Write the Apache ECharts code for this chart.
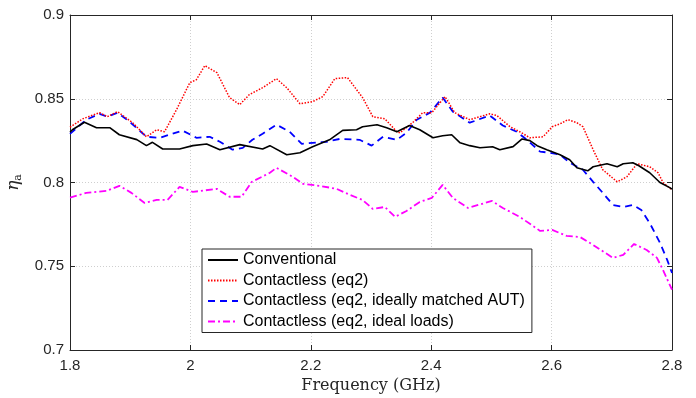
<!DOCTYPE html>
<html><head><meta charset="utf-8">
<script src="https://cdn.jsdelivr.net/npm/echarts@6/dist/echarts.min.js"></script>
<style>html,body{margin:0;padding:0;background:#fff}#c{width:696px;height:398px}</style>
</head><body><div id="c"></div>
<script>
// Tick labels / axis ranges
var xTicks = [1.8, 2, 2.2, 2.4, 2.6, 2.8];
var yTicks = [0.7, 0.75, 0.8, 0.85, 0.9];
var seriesNames = ['Conventional', 'Contactless (eq2)', 'Contactless (eq2, ideally matched AUT)', 'Contactless (eq2, ideal loads)'];

// Conventional
var convX = [1.8,1.804,1.824,1.844,1.866,1.882,1.911,1.927,1.937,1.954,1.982,2.004,2.027,2.049,2.082,2.120,2.132,2.160,2.182,2.203,2.231,2.253,2.276,2.286,2.310,2.326,2.343,2.364,2.381,2.403,2.419,2.434,2.448,2.464,2.481,2.502,2.514,2.536,2.551,2.564,2.576,2.592,2.614,2.630,2.642,2.660,2.669,2.692,2.709,2.719,2.735,2.745,2.763,2.780,2.797,2.8];
var convY = [0.830,0.8315,0.836,0.8327,0.8327,0.8285,0.8256,0.822,0.824,0.820,0.820,0.822,0.823,0.8195,0.8226,0.820,0.822,0.8166,0.8178,0.8214,0.8255,0.8311,0.8315,0.8333,0.8345,0.8327,0.8303,0.834,0.8315,0.8267,0.8279,0.8285,0.8237,0.822,0.8207,0.8213,0.8196,0.8214,0.826,0.825,0.822,0.8196,0.8166,0.8136,0.8088,0.807,0.8094,0.8112,0.8094,0.8112,0.8118,0.810,0.8058,0.800,0.7968,0.796];

// Contactless (eq2)
var eq2X = [1.8,1.821,1.849,1.862,1.879,1.904,1.927,1.944,1.957,1.977,1.999,2.010,2.024,2.044,2.065,2.082,2.098,2.120,2.143,2.160,2.182,2.203,2.220,2.240,2.261,2.286,2.303,2.323,2.343,2.348,2.369,2.386,2.401,2.423,2.439,2.464,2.497,2.509,2.531,2.547,2.564,2.586,2.601,2.614,2.627,2.642,2.652,2.669,2.685,2.709,2.725,2.742,2.763,2.777,2.785,2.8];
var eq2Y = [0.833,0.838,0.8417,0.8393,0.8423,0.8357,0.8273,0.8315,0.8303,0.8435,0.8596,0.8614,0.8698,0.8656,0.8507,0.8465,0.8525,0.8566,0.862,0.8566,0.847,0.8483,0.8513,0.862,0.8626,0.8507,0.8393,0.838,0.8303,0.8297,0.8357,0.8417,0.8417,0.8513,0.8417,0.8375,0.841,0.840,0.8333,0.8303,0.8267,0.8273,0.8333,0.835,0.8375,0.8357,0.8333,0.8196,0.8076,0.8004,0.8034,0.8112,0.8094,0.8058,0.800,0.7956];

// Contactless (eq2, ideally matched AUT)
var autX = [1.8,1.827,1.849,1.862,1.879,1.899,1.927,1.949,1.965,1.987,2.010,2.032,2.049,2.070,2.087,2.103,2.120,2.143,2.165,2.185,2.203,2.226,2.248,2.281,2.301,2.320,2.343,2.359,2.376,2.398,2.419,2.436,2.464,2.497,2.519,2.542,2.559,2.581,2.597,2.614,2.630,2.652,2.669,2.685,2.702,2.719,2.735,2.749,2.763,2.780,2.792,2.8];
var autY = [0.829,0.8375,0.841,0.8393,0.8417,0.8363,0.8273,0.8267,0.8285,0.831,0.8267,0.8273,0.8243,0.8196,0.8207,0.8255,0.8291,0.8345,0.8303,0.8231,0.8237,0.8243,0.826,0.8255,0.822,0.8273,0.8255,0.8297,0.8375,0.8417,0.8507,0.8423,0.8357,0.840,0.834,0.8303,0.8255,0.8184,0.8178,0.8166,0.8118,0.8076,0.8004,0.7938,0.7866,0.7854,0.7866,0.7836,0.7758,0.764,0.7538,0.746];

// Contactless (eq2, ideal loads)
var loadX = [1.8,1.827,1.861,1.882,1.902,1.924,1.944,1.962,1.982,2.004,2.044,2.065,2.085,2.102,2.132,2.143,2.170,2.187,2.215,2.243,2.265,2.286,2.303,2.323,2.340,2.359,2.381,2.401,2.419,2.436,2.461,2.501,2.519,2.547,2.581,2.601,2.625,2.647,2.669,2.702,2.719,2.737,2.758,2.775,2.785,2.8];
var loadY = [0.791,0.7938,0.795,0.798,0.7938,0.7878,0.7896,0.7896,0.7974,0.7944,0.7962,0.7915,0.7915,0.8004,0.8058,0.8088,0.8034,0.7992,0.798,0.7962,0.7926,0.7896,0.7842,0.7854,0.7795,0.783,0.7884,0.7908,0.7986,0.7908,0.7848,0.789,0.7848,0.7795,0.7711,0.7717,0.7681,0.7675,0.7627,0.755,0.7568,0.7633,0.7597,0.755,0.7478,0.736];

function pairs(xs, ys){ return xs.map(function(x,i){ return [x, ys[i]]; }); }

var axisCol = '#262626';
var labelFont = {fontFamily:'Liberation Sans', fontSize:15, color:'#262626'};
function xAx(pos, show){
  return {type:'value', position:pos, min:xTicks[0], max:xTicks[xTicks.length-1], interval:0.2,
    axisLine:{show:true, onZero:false, lineStyle:{color:axisCol, width:1}},
    axisTick:{show:true, inside:true, length:5, lineStyle:{color:axisCol}},
    axisLabel:Object.assign({show:show, margin:8}, labelFont),
    splitLine:{show:show, lineStyle:{color:'#cfcfcf', type:[1,2], width:1}},
    name: show ? 'Frequency (GHz)' : '', nameLocation:'middle', nameGap:28,
    nameTextStyle:{fontFamily:'DejaVu Serif', fontSize:16, color:'#262626'}};
}
function yAx(pos, show){
  return {type:'value', position:pos, min:yTicks[0], max:yTicks[yTicks.length-1], interval:0.05,
    axisLine:{show:true, onZero:false, lineStyle:{color:axisCol, width:1}},
    axisTick:{show:true, inside:true, length:5, lineStyle:{color:axisCol}},
    axisLabel:Object.assign({show:show, margin:6}, labelFont),
    splitLine:{show:show, lineStyle:{color:'#cfcfcf', type:[1,2], width:1}},
    name: show ? '{e|η}{a|a}' : '', nameLocation:'middle', nameGap:44, nameRotate:90,
    nameTextStyle:{color:'#262626', rich:{
      e:{fontFamily:'DejaVu Serif', fontStyle:'italic', fontSize:17, color:'#262626'},
      a:{fontFamily:'DejaVu Serif', fontSize:11, color:'#262626', padding:[9,0,0,0]}}}};
}

var chart = echarts.init(document.getElementById('c'), null, {renderer:'canvas'});
chart.setOption({
  animation:false,
  backgroundColor:'#fff',
  grid:{left:70, right:24, top:15, bottom:48, containLabel:false, outerBoundsMode:'none'},
  xAxis:[xAx('bottom', true), xAx('top', false)],
  yAxis:[yAx('left', true), yAx('right', false)],
  legend:{orient:'vertical', left:202, top:249, data:seriesNames,
    borderColor:axisCol, borderWidth:1, backgroundColor:'#fff', padding:[3,7,3,5],
    itemWidth:30, itemHeight:16, itemGap:4.5,
    itemStyle:{opacity:0},
    textStyle:{fontFamily:'Liberation Sans', fontSize:16, color:'#000'}},
  series:[
    {name:seriesNames[0], type:'line', data:pairs(convX, convY), symbol:'none', z:5,
      lineStyle:{color:'#000', width:1.6}, itemStyle:{color:'#000'}},
    {name:seriesNames[1], type:'line', data:pairs(eq2X, eq2Y), symbol:'none', z:4,
      lineStyle:{color:'#ff0000', width:1.5, type:[1.5,1.5]}, itemStyle:{color:'#ff0000'}},
    {name:seriesNames[2], type:'line', data:pairs(autX, autY), symbol:'none', z:3,
      lineStyle:{color:'#0000ff', width:1.8, type:[7,5]}, itemStyle:{color:'#0000ff'}},
    {name:seriesNames[3], type:'line', data:pairs(loadX, loadY), symbol:'none', z:2,
      lineStyle:{color:'#ff00ff', width:1.8, type:[7,3,2,3]}, itemStyle:{color:'#ff00ff'}}
  ]
});
</script></body></html>
